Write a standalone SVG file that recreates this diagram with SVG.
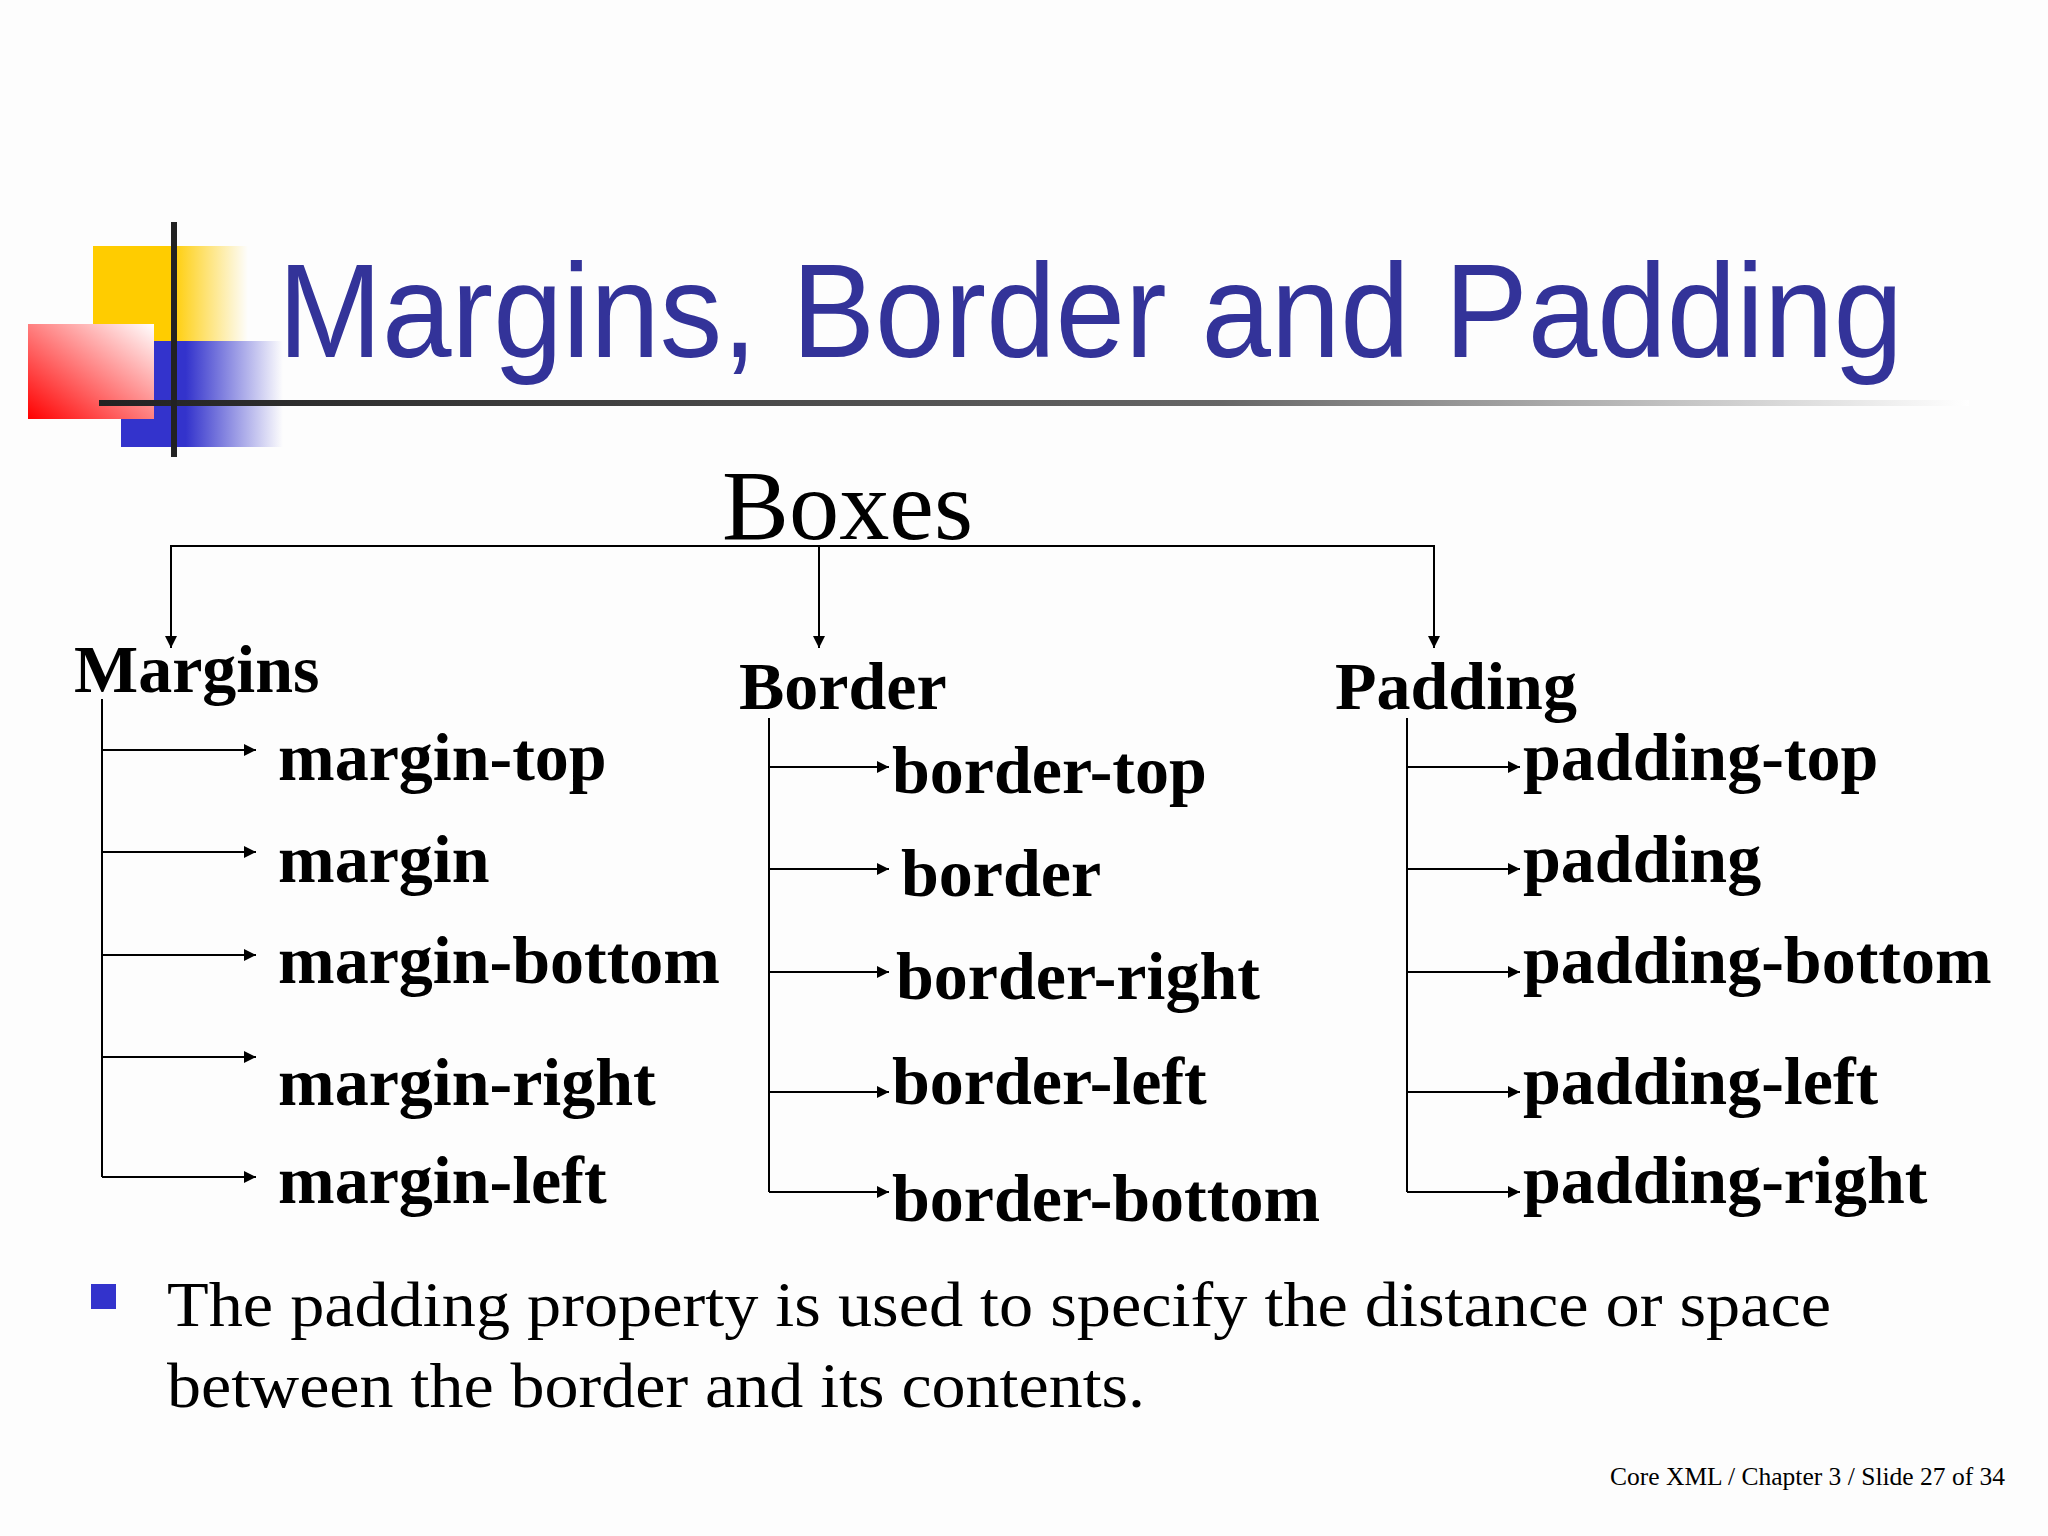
<svg xmlns="http://www.w3.org/2000/svg" width="2048" height="1536" viewBox="0 0 2048 1536">
<defs>
<style>
.b{font-family:"Liberation Serif",serif;font-weight:bold;font-size:68px;fill:#000}
.h{font-family:"Liberation Serif",serif;font-weight:bold;font-size:68px;fill:#000}
.l{stroke:#000;stroke-width:2;fill:none}
.a{stroke:#000;stroke-width:2;fill:none;marker-end:url(#ah)}
</style>
<marker id="ah" viewBox="0 0 10 10" refX="10" refY="5" markerWidth="6" markerHeight="6" orient="auto" markerUnits="strokeWidth"><path d="M0,0 L10,5 L0,10 z" fill="#000"/></marker>
<linearGradient id="gy" x1="0" x2="1"><stop offset="0.5" stop-color="#ffcc00"/><stop offset="1" stop-color="#ffcc00" stop-opacity="0"/></linearGradient>
<linearGradient id="gb" x1="0" x2="1"><stop offset="0.4" stop-color="#3333cc"/><stop offset="1" stop-color="#3333cc" stop-opacity="0"/></linearGradient>
<linearGradient id="gr" x1="0" y1="1" x2="1" y2="0"><stop offset="0" stop-color="#ff0000"/><stop offset="1" stop-color="#ffffff"/></linearGradient>
<linearGradient id="gl" x1="0" x2="1"><stop offset="0" stop-color="#222"/><stop offset="0.6" stop-color="#666"/><stop offset="1" stop-color="#fff"/></linearGradient>
</defs>
<rect width="2048" height="1536" fill="#fdfdfd"/>
<g id="logo">
<rect x="93" y="246" width="155" height="95" fill="url(#gy)"/>
<rect x="121" y="341" width="162" height="106" fill="url(#gb)"/>
<rect x="28" y="324" width="126" height="95" fill="url(#gr)"/>
<rect x="99" y="400" width="1870" height="6" fill="url(#gl)"/>
<rect x="171" y="222" width="6" height="235" fill="#222"/>
</g>
<text id="title" x="278" y="357" font-family="Liberation Sans,Arial,sans-serif" font-size="133" fill="#333399" textLength="1625" lengthAdjust="spacingAndGlyphs">Margins, Border and Padding</text>
<g id="boxes"><text x="722" y="539" font-family="Liberation Serif,serif" font-size="100" textLength="251" lengthAdjust="spacingAndGlyphs">Boxes</text></g>
<g id="margins"><text class="h" x="74" y="692">Margins</text>
<text class="b" x="278" y="780">margin-top</text><text class="b" x="278" y="882">margin</text><text class="b" x="278" y="983">margin-bottom</text><text class="b" x="278" y="1105">margin-right</text><text class="b" x="278" y="1203">margin-left</text></g>
<g id="border"><text class="h" x="739" y="709">Border</text>
<text class="b" x="892" y="793">border-top</text><text class="b" x="901" y="896">border</text><text class="b" x="896" y="999">border-right</text><text class="b" x="892" y="1104">border-left</text><text class="b" x="892" y="1221">border-bottom</text></g>
<g id="padding"><text class="h" x="1335" y="709">Padding</text>
<text class="b" x="1523" y="780">padding-top</text><text class="b" x="1523" y="882">padding</text><text class="b" x="1523" y="983">padding-bottom</text><text class="b" x="1523" y="1104">padding-left</text><text class="b" x="1523" y="1203">padding-right</text></g>
<g id="connectors">
<path class="l" d="M171,646 V546 H1434 V646 M819,546 V646"/>
<path class="a" d="M171,546 V648"/><path class="a" d="M819,546 V648"/><path class="a" d="M1434,546 V648"/>
<path class="l" d="M102,699 V1177"/>
<path class="a" d="M102,750 H256"/><path class="a" d="M102,852 H256"/><path class="a" d="M102,955 H256"/><path class="a" d="M102,1057 H256"/><path class="a" d="M102,1177 H256"/>
<path class="l" d="M769,718 V1192"/>
<path class="a" d="M769,767 H889"/><path class="a" d="M769,869 H889"/><path class="a" d="M769,972 H889"/><path class="a" d="M769,1092 H889"/><path class="a" d="M769,1192 H889"/>
<path class="l" d="M1407,718 V1192"/>
<path class="a" d="M1407,767 H1520"/><path class="a" d="M1407,869 H1520"/><path class="a" d="M1407,972 H1520"/><path class="a" d="M1407,1092 H1520"/><path class="a" d="M1407,1192 H1520"/>
</g>
<rect x="91" y="1284" width="25" height="25" fill="#3333cc"/>
<text x="167" y="1326" font-family="Liberation Serif,serif" font-size="64" textLength="1664" lengthAdjust="spacingAndGlyphs">The padding property is used to specify the distance or space</text>
<text x="167" y="1407" font-family="Liberation Serif,serif" font-size="64" textLength="978" lengthAdjust="spacingAndGlyphs">between the border and its contents.</text>
<text x="2005" y="1485" text-anchor="end" font-family="Liberation Serif,serif" font-size="25.5">Core XML / Chapter 3 / Slide 27 of 34</text>
</svg>
